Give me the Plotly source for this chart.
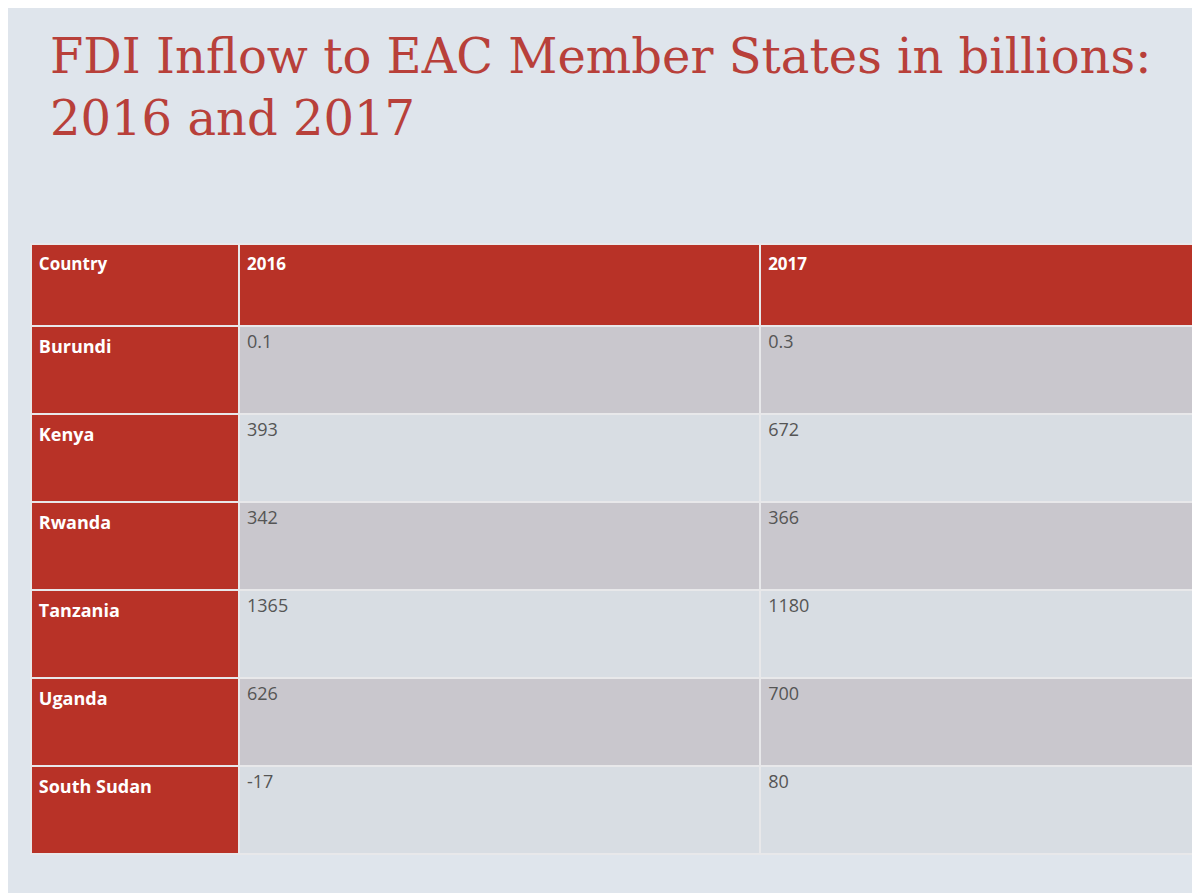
import plotly.graph_objects as go

countries = ["Burundi", "Kenya", "Rwanda", "Tanzania", "Uganda", "South Sudan"]
fdi_2016 = ["0.1", "393", "342", "1365", "626", "-17"]
fdi_2017 = ["0.3", "672", "366", "1180", "700", "80"]
headers = ["Country", "2016", "2017"]

red = "#b83227"
row_colors = ["#c9c7cd" if i % 2 == 0 else "#d8dde3" for i in range(len(countries))]

fig = go.Figure(go.Table(
    domain=dict(x=[0.019, 1.0], y=[0.0, 1 - 236 / 893]),
    columnwidth=[207, 518, 445],
    header=dict(
        values=[f"<b>{h}</b>" for h in headers],
        fill_color=red,
        line_color="#e8e8ea",
        line_width=2,
        align="left",
        height=82,
        font=dict(family="Open Sans", size=17, color="white"),
    ),
    cells=dict(
        values=[[f"<b>{c}</b>" for c in countries], fdi_2016, fdi_2017],
        fill_color=[[red] * len(countries), row_colors, row_colors],
        line_color="#e8e8ea",
        line_width=2,
        align="left",
        height=88,
        font=dict(family="Open Sans", size=18,
                  color=[["white"] * len(countries), ["#555555"] * 6, ["#555555"] * 6]),
    ),
))

fig.add_annotation(
    text="FDI Inflow to EAC Member States in billions:<br>2016 and 2017",
    x=40 / 1200, y=1 - 18 / 893, xref="paper", yref="paper",
    xanchor="left", yanchor="top", align="left", showarrow=False,
    font=dict(family="DejaVu Serif", size=48, color="#b8403a"),
)

fig.update_layout(
    width=1200, height=893,
    margin=dict(l=0, r=0, t=0, b=0),
    paper_bgcolor="#dfe5ec",
    plot_bgcolor="#dfe5ec",
)

fig.write_html("out.html")
